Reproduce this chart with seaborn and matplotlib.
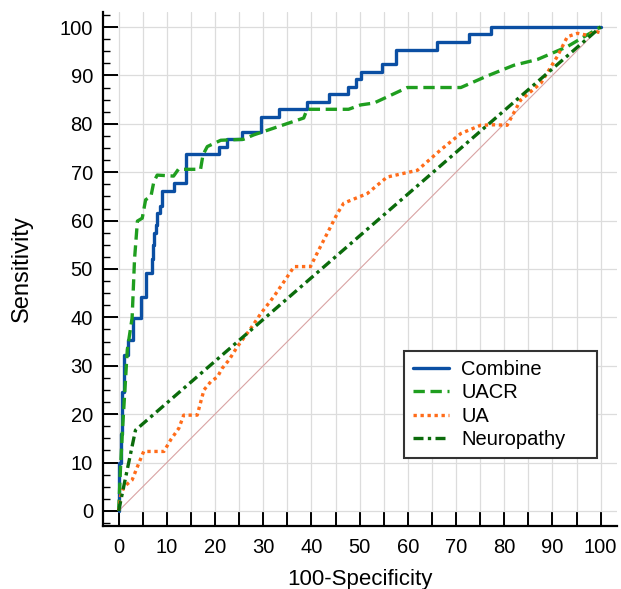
import matplotlib
matplotlib.use("Agg")
import matplotlib.pyplot as plt
import seaborn as sns
import pandas as pd
from matplotlib.ticker import MultipleLocator

# ---- data ----
combine_x = [0, 0, 0.4, 0.8, 1.2, 2.0, 2.9, 4.6, 5.7, 7.0, 7.2, 7.3, 7.7, 8.0, 8.6, 9.0, 9.1,
             11.4, 13.9, 20.8, 22.5, 25.7, 29.5, 33.3, 39.1, 43.6, 47.6, 49.3, 50.2, 54.7,
             57.5, 66.1, 72.7, 77.2, 100]
combine_y = [0, 10, 16, 24.6, 32.2, 35.3, 39.9, 44.3, 49.2, 52.0, 55.0, 57.4, 59.0, 61.5, 63.0,
             64.6, 66.1, 67.7, 73.8, 75.3, 76.8, 78.4, 81.5, 83.0, 84.6, 86.1, 87.7, 89.2, 90.8,
             92.4, 95.2, 96.9, 98.5, 100, 100]

uacr_x = [0, 0.4, 0.8, 1.8, 2.8, 3.3, 3.9, 4.9, 5.6, 6.7, 7.3, 8.0, 11.4, 12.4, 17.0, 17.5,
          18.4, 21.2, 25.9, 28.0, 38.4, 39.1, 47.7, 50.2, 53.0, 59.9, 71.0, 76.5, 82.0, 86.9,
          93.0, 100]
uacr_y = [0, 9, 16.7, 33.3, 39.9, 52.0, 59.9, 60.5, 64.3, 65.0, 68.0, 69.4, 69.2, 70.6, 70.6,
          73.6, 75.3, 76.6, 76.8, 77.7, 81.2, 83.0, 83.0, 83.9, 84.3, 87.5, 87.5, 89.9, 92.1,
          93.3, 95.9, 100]

ua_x = [0, 0.4, 1.1, 2.8, 4.2, 5.2, 9.4, 10.8, 12.5, 13.5, 16.3, 17.7, 19.1, 20.5, 21.5, 22.9,
        24.6, 27.4, 29.5, 32.2, 35.0, 36.4, 39.8, 41.5, 43.3, 45.4, 46.7, 51.6, 55.7, 62.0,
        66.8, 71.0, 75.1, 77.9, 80.6, 83.4, 87.6, 91.0, 93.1, 95.2, 97.2, 99.3, 100]
ua_y = [0, 3, 5, 6.4, 9.9, 12.3, 12.3, 14.7, 17.1, 19.8, 19.8, 25.0, 26.7, 27.7, 29.5, 31.2,
        33.9, 37.7, 40.8, 44.3, 48.4, 50.5, 50.5, 53.9, 57.4, 61.5, 63.6, 65.6, 69.0, 70.4,
        74.6, 78.0, 79.7, 79.8, 79.7, 84.9, 88.4, 93.9, 98.0, 98.7, 98.3, 99.0, 98.8]

neuro_x = [0, 3.5, 100]
neuro_y = [0, 16.7, 100]

ref_x = [0, 100]
ref_y = [0, 100]

labels = ["Combine", "UACR", "UA", "Neuropathy"]
colors = ["#0b4fa3", "#1f9e1f", "#ff6c1a", "#0b6b0b"]
xticks = list(range(0, 101, 10))
yticks = list(range(0, 101, 10))

# ---- plot ----
sns.set_theme(style="white")
plt.rcParams["font.family"] = ["Liberation Sans", "DejaVu Sans"]

fig = plt.figure(figsize=(6.21, 5.89), dpi=100)
ax = fig.add_axes([0.1654, 0.107, 0.9936 - 0.1654, 0.9796 - 0.107])

sns.lineplot(x=ref_x, y=ref_y, ax=ax, color="#d9a3a3", lw=0.8, label="_ref")

lw = 2.4
sns.lineplot(x=combine_x, y=combine_y, ax=ax, sort=False, estimator=None,
             drawstyle="steps-post", color=colors[0], lw=lw, label=labels[0])
sns.lineplot(x=uacr_x, y=uacr_y, ax=ax, sort=False, estimator=None,
             color=colors[1], lw=lw, linestyle=(0, (3.4, 1.7)), label=labels[1])
sns.lineplot(x=ua_x, y=ua_y, ax=ax, sort=False, estimator=None,
             color=colors[2], lw=lw, linestyle=(0, (1, 1.1)), label=labels[2])
sns.lineplot(x=neuro_x, y=neuro_y, ax=ax, sort=False, estimator=None,
             color=colors[3], lw=lw, linestyle=(0, (3, 1.3, 1, 1.3)), label=labels[3])

ax.set_xlim(-3.3, 103.4)
ax.set_ylim(-3.1, 103.1)

ax.set_xticks(xticks)
ax.set_yticks(yticks)
ax.xaxis.set_minor_locator(MultipleLocator(5))
ax.yaxis.set_minor_locator(MultipleLocator(2.5))

ax.grid(which="major", axis="both", color="#dcdcdc", lw=0.9)
ax.grid(which="minor", axis="x", color="#dcdcdc", lw=0.9)
ax.set_axisbelow(True)

for s in ["top", "right"]:
    ax.spines[s].set_visible(False)
for s in ["left", "bottom"]:
    ax.spines[s].set_color("black")
    ax.spines[s].set_linewidth(1.6)

ax.tick_params(axis="x", which="both", bottom=True, direction="in", length=10.5, width=1.4,
               color="black", labelcolor="black", labelsize=14.5, pad=9)
ax.tick_params(axis="y", which="major", left=True, direction="in", length=10.5, width=1.4,
               color="black", labelcolor="black", labelsize=14.5, pad=7)
ax.tick_params(axis="y", which="minor", left=True, direction="in", length=5, width=1.0,
               color="black")

ax.set_xlabel("100-Specificity", fontsize=16, color="black", labelpad=8)
ax.set_ylabel("Sensitivity", fontsize=17, color="black", labelpad=19)

leg = ax.legend(loc="lower left", bbox_to_anchor=(0.586, 0.132, 0.375, 0.214),
                mode="expand", fontsize=14.5,
                frameon=True, fancybox=False, edgecolor="#333333", framealpha=1,
                borderpad=0.45, labelspacing=0.22, handlelength=1.8,
                handletextpad=0.6, borderaxespad=0)
leg.get_frame().set_linewidth(1.5)
for t in leg.get_texts():
    t.set_color("black")

fig.savefig("out.png", dpi=100)
